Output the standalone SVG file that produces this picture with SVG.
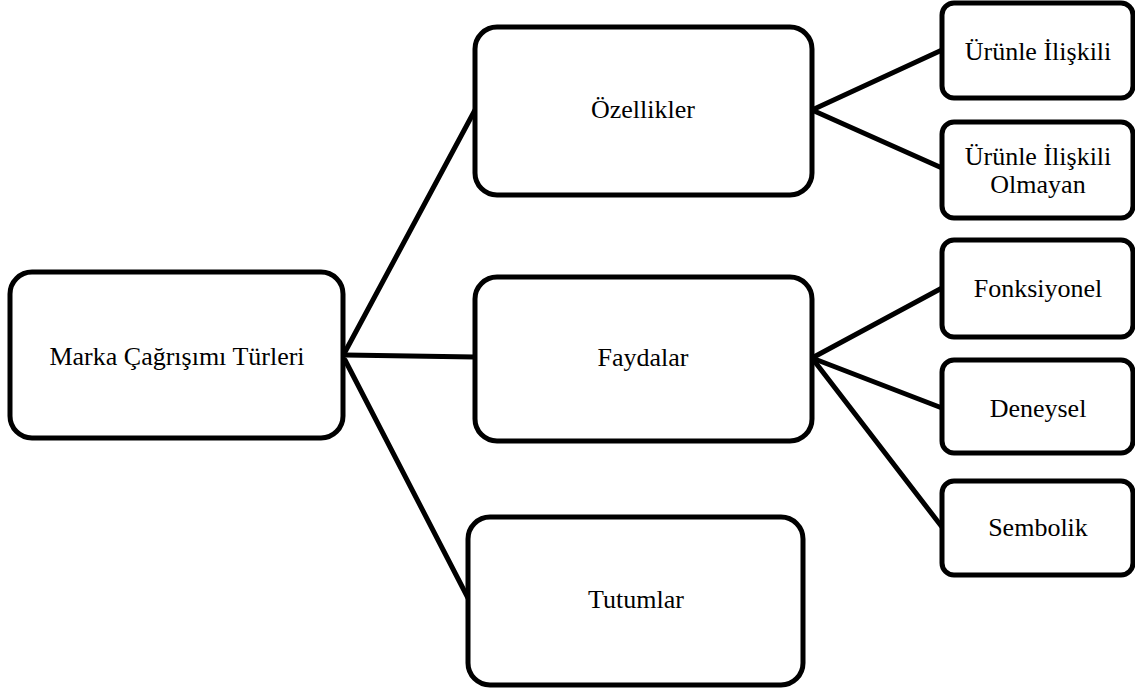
<svg xmlns="http://www.w3.org/2000/svg" width="1135" height="689" viewBox="0 0 1135 689">
<style>
.box{fill:#fff;stroke:#000;stroke-width:5}
.t{font-family:"Liberation Serif","Times New Roman",serif;font-size:26px;fill:#000;text-anchor:middle}
.c line{stroke:#000;stroke-width:5;stroke-linecap:round}
</style>
<rect width="1135" height="689" fill="#fff"/>
<g class="c" id="connectors">
<line x1="345" y1="352" x2="475" y2="110"/>
<line x1="345" y1="355" x2="475" y2="357"/>
<line x1="345" y1="360" x2="468" y2="598"/>
<line x1="812" y1="110" x2="942" y2="50"/>
<line x1="812" y1="110" x2="942" y2="168"/>
<line x1="812" y1="358" x2="942" y2="288"/>
<line x1="812" y1="358" x2="942" y2="408"/>
<line x1="812" y1="358" x2="942" y2="527"/>
</g>
<g id="root"><rect class="box" x="10" y="272" width="333" height="166" rx="22"/><text class="t" x="177" y="365">Marka Çağrışımı  Türleri</text></g>
<g id="ozellikler"><rect class="box" x="475" y="27" width="337" height="168" rx="22"/><text class="t" x="643" y="118">Özellikler</text></g>
<g id="faydalar"><rect class="box" x="475" y="277" width="337" height="164" rx="22"/><text class="t" x="643" y="366">Faydalar</text></g>
<g id="tutumlar"><rect class="box" x="468" y="517" width="335" height="168" rx="22"/><text class="t" x="636" y="608">Tutumlar</text></g>
<g id="urunle"><rect class="box" x="942" y="3" width="191" height="95" rx="12"/><text class="t" x="1038" y="60">Ürünle İlişkili</text></g>
<g id="urunle-olmayan"><rect class="box" x="942" y="122" width="191" height="96" rx="12"/><text class="t" x="1038" y="165">Ürünle İlişkili</text><text class="t" x="1038" y="193">Olmayan</text></g>
<g id="fonksiyonel"><rect class="box" x="942" y="240" width="191" height="97" rx="12"/><text class="t" x="1038" y="297">Fonksiyonel</text></g>
<g id="deneysel"><rect class="box" x="942" y="360" width="191" height="93" rx="12"/><text class="t" x="1038" y="417">Deneysel</text></g>
<g id="sembolik"><rect class="box" x="942" y="481" width="191" height="94" rx="12"/><text class="t" x="1038" y="536">Sembolik</text></g>
</svg>
